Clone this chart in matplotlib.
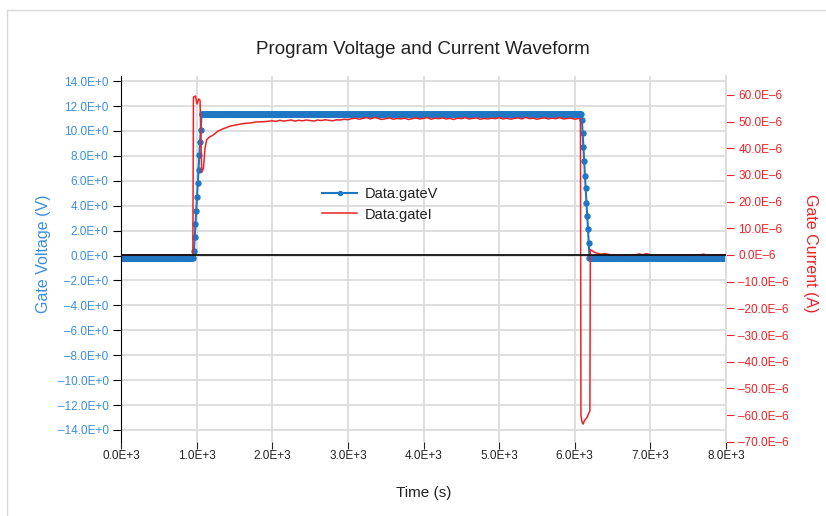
import numpy as np
import matplotlib
matplotlib.use("Agg")
import matplotlib.pyplot as plt
from matplotlib.patches import Rectangle

plt.rcParams['font.family'] = ['Liberation Sans', 'DejaVu Sans']

# gate voltage (V), sampled every 10 s
v_low = -0.2
v_high = 11.4
t_base = np.arange(0, 950, 10)
t_rise = np.arange(955, 1070, 10)
v_rise = [-0.2, 0.4, 1.45, 2.5, 3.6, 4.67, 5.8, 6.84, 8.05, 9.1, 10.1, 11.4]
t_top = np.arange(1075, 6090, 10)
t_fall = np.arange(6095, 6200, 10)
v_fall = [10.86, 9.8, 8.7, 7.56, 6.36, 5.39, 4.18, 3.2, 2.17, 0.97, -0.2]
t_tail = np.arange(6205, 8001, 10)

t_v = np.concatenate([t_base, t_rise, t_top, t_fall, t_tail])
gate_v = np.concatenate([np.full(len(t_base), v_low), v_rise,
                         np.full(len(t_top), v_high), v_fall,
                         np.full(len(t_tail), v_low)])

# gate current (uA)
t_i_start = [0, 950, 958, 985, 1005, 1027, 1045, 1067, 1090, 1111, 1133, 1170,
             1220, 1280, 1350, 1440, 1530, 1620, 1710, 1800, 1900]
i_start = [0, 0, 59.2, 59.6, 56.6, 58.5, 58.0, 31.0, 32.5, 40.0, 43.2, 44.2,
           45.0, 46.4, 47.3, 48.3, 48.8, 49.3, 49.5, 49.9, 50.0]
t_i_flat = np.arange(2000, 6051, 50)
i_flat = [50.3, 50.1, 50.5, 50.2, 50.4, 50.6, 50.2, 50.5, 50.3, 50.6,
          50.4, 50.2, 50.6, 50.4, 50.7, 50.5, 50.3, 50.7, 50.6, 50.9,
          50.7, 51.1, 51.3, 50.9, 51.2, 51.5, 51.0, 51.6, 51.2, 50.8,
          51.1, 51.4, 50.9, 51.2, 51.0, 51.3, 50.8, 51.1, 51.4, 51.0,
          51.2, 51.5, 50.9, 51.3, 51.1, 51.4, 51.0, 51.2, 50.8, 51.3,
          51.1, 51.5, 51.0, 51.2, 51.4, 50.9, 51.2, 51.0, 51.3, 51.1,
          51.5, 51.0, 51.3, 50.9, 51.2, 51.4, 51.0, 51.6, 51.1, 51.3,
          50.9, 51.2, 51.4, 51.0, 51.3, 51.1, 51.5, 51.0, 51.2, 51.3,
          50.9, 51.2]
t_i_end = [6075, 6082, 6095, 6110, 6130, 6160, 6190, 6200, 6206, 6230, 6260,
           6300, 6350, 6400, 6450, 6500, 6800, 6850, 6900, 6950, 7000, 7650,
           7700, 7750, 8000]
i_end = [51.0, -60.0, -62.5, -63.4, -62.0, -61.0, -59.0, -58.5, 2.0, 1.6, 1.0,
         0.6, 0.3, 0.5, 0.2, 0.0, 0.0, 0.4, 0.1, 0.5, 0.0, 0.0,
         0.3, 0.0, 0.0]

t_i = np.concatenate([t_i_start, t_i_flat, t_i_end])
gate_i = np.concatenate([i_start, i_flat, i_end]) * 1e-6

x_ticks = np.arange(0, 8001, 1000)
v_ticks = np.arange(-14, 15, 2)
i_ticks = np.arange(-70, 61, 10)

blue = '#1f77c4'
blue_txt = '#3b8ede'
red = '#ec2227'
grid_c = '#dcdcdc'


def fmt(v, exp):
    s = f"{abs(v):.1f}E{exp}"
    return ('\u2013' + s) if v < 0 else s


fig = plt.figure(figsize=(8.26, 5.16), dpi=100)
fig.patches.append(Rectangle((7 / 826, -0.01), 1.0, 1 - 10 / 516 + 0.01,
                             transform=fig.transFigure, fill=False,
                             edgecolor='#d8d8d8', lw=1))
ax1 = fig.add_axes([121 / 826, 1 - 441.7 / 516, 605 / 826, 365.7 / 516])
ax2 = ax1.twinx()

l1, = ax1.plot(t_v, gate_v, color=blue, lw=1.5, marker='o', markersize=3.6,
               label='Data:gateV')
l2, = ax2.plot(t_i, gate_i, color=red, lw=1.1, label='Data:gateI')
ax2.axhline(0, color='#111111', lw=1.3, zorder=5)

ax1.set_xlim(0, 8000)
ax1.set_ylim(-14.94, 14.41)
ax2.set_ylim(-70e-6, 67.1e-6)

ax1.set_xticks(x_ticks)
ax1.set_xticklabels([fmt(x / 1000, '+3') for x in x_ticks])
ax1.set_yticks(v_ticks)
ax1.set_yticklabels([fmt(v, '+0') for v in v_ticks])
ax2.set_yticks(i_ticks * 1e-6)
ax2.set_yticklabels([fmt(v, '\u20136') for v in i_ticks])

ax1.grid(True, color=grid_c, lw=1.3)
ax1.set_axisbelow(True)
for ax in (ax1, ax2):
    ax.spines['top'].set_visible(False)
    ax.spines['bottom'].set_visible(False)
ax1.spines['left'].set_color('black')
ax1.spines['right'].set_visible(False)
ax2.spines['left'].set_visible(False)
ax2.spines['right'].set_color(grid_c)
ax2.spines['right'].set_linewidth(1.3)

ax1.tick_params(axis='x', colors='#222222', labelsize=8.5, length=5, pad=1)
ax1.tick_params(axis='y', colors='black', labelcolor=blue_txt, labelsize=8.5,
                length=6, pad=3)
ax2.tick_params(axis='y', colors=red, labelcolor=red, labelsize=8.5,
                length=6, pad=3)

ax1.set_xlabel('Time (s)', fontsize=11, color='#222222', labelpad=17)
ax1.set_ylabel('Gate Voltage (V)', fontsize=11.5, color=blue_txt)
ax1.yaxis.set_label_coords(-0.115, 0.515)
ax2.set_ylabel('Gate Current (A)', fontsize=11.5, color=red, rotation=270,
               va='bottom')
ax2.yaxis.set_label_coords(1.127, 0.515)
fig.text(423 / 826, 1 - 49 / 516, 'Program Voltage and Current Waveform',
         fontsize=13.5, color='#222222', ha='center', va='center')

ax2.legend([l1, l2], ['Data:gateV', 'Data:gateI'], loc='upper left',
           bbox_to_anchor=(322 / 826, 1 - 187 / 516),
           bbox_transform=fig.transFigure, frameon=False, fontsize=10.5,
           handlelength=2.4, handletextpad=0.55, labelspacing=0.45,
           borderpad=0, borderaxespad=0, numpoints=1, markerscale=0.8,
           labelcolor='#222222')

fig.savefig('out.png', dpi=100)
